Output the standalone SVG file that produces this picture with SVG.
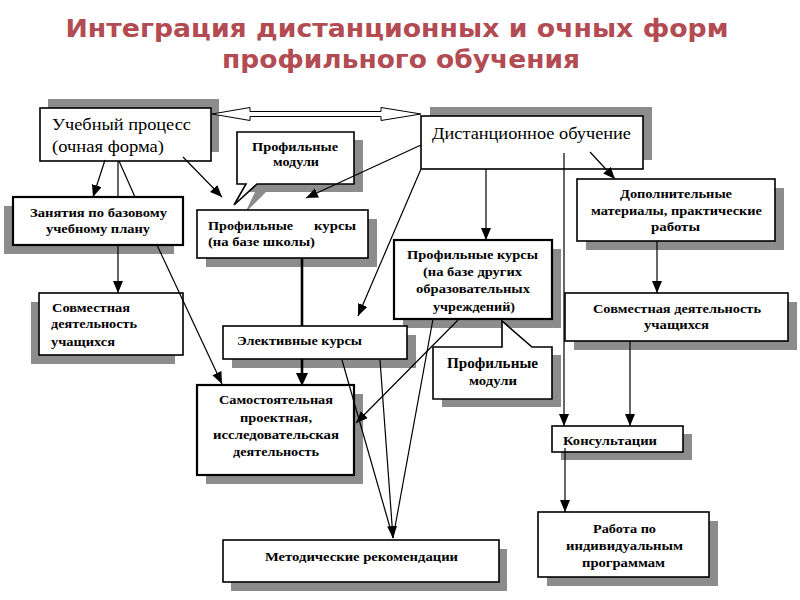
<svg xmlns="http://www.w3.org/2000/svg" width="800" height="600" viewBox="0 0 800 600">
<defs>
<marker id="ah" markerUnits="userSpaceOnUse" markerWidth="13" markerHeight="11" refX="12" refY="5" orient="auto">
<path d="M0,0 L12,5 L0,10 z" fill="#000"/>
</marker>
<style>
.sh{fill:#8c8c8c}
.bx{fill:#fff;stroke:#000;stroke-width:1.6}
.bx2{fill:#fff;stroke:#000;stroke-width:2.2}
.t{font-family:"Liberation Serif","Times New Roman",serif;font-weight:bold;fill:#000}
.tl{font-size:16.5px;font-weight:normal}
.tm{font-size:13px}
.ts{font-size:12px}
.ttl{font-family:"DejaVu Sans","Open Sans",sans-serif;font-weight:bold;font-size:25px;fill:#b24b52;text-anchor:middle}
.c{fill:none;stroke:#000;stroke-width:1.2}
.ca{fill:none;stroke:#000;stroke-width:1.2;marker-end:url(#ah)}
.ck{fill:none;stroke:#000;stroke-width:2.6}
</style>
</defs>
<rect width="800" height="600" fill="#fff"/>
<g id="title">
<text class="ttl" x="397" y="37" textLength="663" lengthAdjust="spacingAndGlyphs">Интеграция дистанционных и очных форм</text>
<text class="ttl" x="401" y="68" textLength="358" lengthAdjust="spacingAndGlyphs">профильного обучения</text>
</g>
<g id="n1">
<rect class="sh" x="48" y="99" width="171" height="53"/>
<rect class="bx" x="40" y="108" width="171" height="53"/>
<text class="t tl" x="52" y="130" textLength="139" lengthAdjust="spacingAndGlyphs">Учебный процесс</text>
<text class="t tl" x="52" y="152" textLength="112" lengthAdjust="spacingAndGlyphs">(очная форма)</text>
</g>
<g id="n2">
<rect class="sh" x="430" y="107" width="222" height="53"/>
<rect class="bx" x="421" y="116" width="222" height="53"/>
<text class="t tl" x="432" y="139" textLength="199" lengthAdjust="spacingAndGlyphs">Дистанционное обучение</text>
</g>
<g id="n3">
<path class="sh" d="M246,140 H363 V192 H266 L245,213 L255,192 H246 Z"/>
<path class="bx" d="M237,132 H354 V184 H257 L234,205 L246,184 H237 Z"/>
<text class="t tm" x="252" y="151" textLength="86" lengthAdjust="spacingAndGlyphs">Профильные</text>
<text class="t ts" x="273" y="166" textLength="46" lengthAdjust="spacingAndGlyphs">модули</text>
</g>
<g id="n4">
<rect class="sh" x="4" y="206" width="170" height="48"/>
<rect class="bx2" x="13" y="197" width="170" height="48"/>
<text class="t ts" x="30" y="217" textLength="137" lengthAdjust="spacingAndGlyphs">Занятия по базовому</text>
<text class="t ts" x="46" y="233" textLength="104" lengthAdjust="spacingAndGlyphs">учебному плану</text>
</g>
<g id="n5">
<rect class="sh" x="206" y="219" width="171" height="48"/>
<rect class="bx" x="197" y="210" width="171" height="48"/>
<text class="t tm" x="208" y="230" textLength="85" lengthAdjust="spacingAndGlyphs">Профильные</text>
<text class="t tm" x="314" y="230" textLength="42" lengthAdjust="spacingAndGlyphs">курсы</text>
<text class="t tm" x="208" y="246" textLength="107" lengthAdjust="spacingAndGlyphs">(на базе школы)</text>
</g>
<g id="n6">
<rect class="sh" x="586" y="188" width="198" height="62"/>
<rect class="bx" x="577" y="179" width="198" height="62"/>
<text class="t ts" x="620" y="198" textLength="112" lengthAdjust="spacingAndGlyphs">Дополнительные</text>
<text class="t ts" x="591" y="215" textLength="171" lengthAdjust="spacingAndGlyphs">материалы, практические</text>
<text class="t ts" x="651" y="231" textLength="49" lengthAdjust="spacingAndGlyphs">работы</text>
</g>
<g id="n7">
<rect class="sh" x="403" y="249" width="158" height="79"/>
<rect class="bx2" x="394" y="240" width="158" height="79"/>
<text class="t tm" x="407" y="259" textLength="131" lengthAdjust="spacingAndGlyphs">Профильные курсы</text>
<text class="t ts" x="423" y="276" textLength="99" lengthAdjust="spacingAndGlyphs">(на базе других</text>
<text class="t ts" x="416" y="293" textLength="114" lengthAdjust="spacingAndGlyphs">образовательных</text>
<text class="t ts" x="433" y="311" textLength="82" lengthAdjust="spacingAndGlyphs">учреждений)</text>
</g>
<g id="n8">
<rect class="sh" x="31" y="302" width="144" height="62"/>
<rect class="bx" x="39" y="293" width="144" height="62"/>
<text class="t tm" x="52" y="312" textLength="78" lengthAdjust="spacingAndGlyphs">Совместная</text>
<text class="t ts" x="51" y="328" textLength="86" lengthAdjust="spacingAndGlyphs">деятельность</text>
<text class="t ts" x="51" y="346" textLength="64" lengthAdjust="spacingAndGlyphs">учащихся</text>
</g>
<g id="n9">
<rect class="sh" x="574" y="302" width="223" height="48"/>
<rect class="bx" x="565" y="293" width="223" height="48"/>
<text class="t ts" x="593" y="313" textLength="168" lengthAdjust="spacingAndGlyphs">Совместная деятельность</text>
<text class="t ts" x="644" y="329" textLength="65" lengthAdjust="spacingAndGlyphs">учащихся</text>
</g>
<g id="n10">
<rect class="sh" x="232" y="335" width="184" height="33"/>
<rect class="bx" x="223" y="326" width="184" height="33"/>
<text class="t tm" x="237" y="345" textLength="125" lengthAdjust="spacingAndGlyphs">Элективные курсы</text>
</g>
<g id="n11">
<rect class="sh" x="442" y="355" width="119" height="52"/>
<path class="bx" d="M433,347 H502 V321 L532,347 H552 V399 H433 Z"/>
<text class="t" x="447" y="368" font-size="14" textLength="91" lengthAdjust="spacingAndGlyphs">Профильные</text>
<text class="t ts" x="469" y="385" textLength="48" lengthAdjust="spacingAndGlyphs">модули</text>
</g>
<g id="n12">
<rect class="sh" x="206" y="394" width="157" height="90"/>
<rect class="bx2" x="197" y="385" width="157" height="90"/>
<text class="t ts" x="219" y="404" textLength="114" lengthAdjust="spacingAndGlyphs">Самостоятельная</text>
<text class="t ts" x="240" y="422" textLength="72" lengthAdjust="spacingAndGlyphs">проектная,</text>
<text class="t ts" x="213" y="439" textLength="126" lengthAdjust="spacingAndGlyphs">исследовательская</text>
<text class="t ts" x="233" y="456" textLength="86" lengthAdjust="spacingAndGlyphs">деятельность</text>
</g>
<g id="n13">
<rect class="sh" x="561" y="434" width="131" height="26"/>
<rect class="bx" x="552" y="426" width="131" height="26"/>
<text class="t tm" x="563" y="445" textLength="94" lengthAdjust="spacingAndGlyphs">Консультации</text>
</g>
<g id="n14">
<rect class="sh" x="231" y="549" width="276" height="42"/>
<rect class="bx" x="223" y="540" width="276" height="42"/>
<text class="t ts" x="265" y="561" textLength="193" lengthAdjust="spacingAndGlyphs">Методические рекомендации</text>
</g>
<g id="n15">
<rect class="sh" x="547" y="521" width="171" height="65"/>
<rect class="bx" x="538" y="512" width="171" height="65"/>
<text class="t ts" x="593" y="533" textLength="63" lengthAdjust="spacingAndGlyphs">Работа по</text>
<text class="t ts" x="566" y="550" textLength="117" lengthAdjust="spacingAndGlyphs">индивидуальным</text>
<text class="t ts" x="582" y="567" textLength="83" lengthAdjust="spacingAndGlyphs">программам</text>
</g>
<g id="connectors">
<path d="M212,114 L250,107.5 V111.5 H381 V107.5 L421,114 L381,120.5 V116.5 H250 V120.5 Z" fill="#fff" stroke="#000" stroke-width="1"/>
<path class="ca" d="M105,160 L93,197"/>
<path class="c" d="M118,161 V197"/>
<path class="ca" d="M118,245 V293"/>
<path class="c" d="M119,161 L135,197"/>
<path class="ca" d="M157,245 L222,384"/>
<path class="ca" d="M183,157 L222,197"/>
<path class="ca" d="M421,145 L306,198"/>
<path class="ca" d="M421,169 L358,316"/>
<path class="ca" d="M486,169 V240"/>
<path class="ca" d="M564,153 V426"/>
<path class="ca" d="M590,152 L615,179"/>
<path class="ca" d="M657,241 V293"/>
<path class="ca" d="M630,341 V426"/>
<path class="ca" d="M565,448 V512"/>
<path class="ck" d="M302,258 V326"/>
<path class="ck" d="M302,359 V374"/>
<path d="M296,373 L308,373 L302,386 Z" fill="#000"/>
<path class="c" d="M342,360 L393,538"/>
<path class="ca" d="M380,360 L393,538"/>
<path class="c" d="M433,319 L393,538"/>
<path class="ca" d="M458,320 L356,423"/>
</g>
</svg>
